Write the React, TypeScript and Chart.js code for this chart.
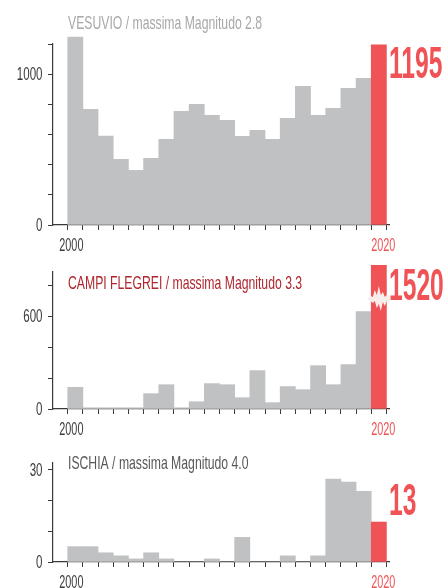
import React, { useEffect, useRef } from 'react';
import { Chart, registerables } from 'chart.js';

Chart.register(...registerables);

// ---------- data ----------
const years = [2000, 2001, 2002, 2003, 2004, 2005, 2006, 2007, 2008, 2009, 2010, 2011, 2012, 2013, 2014, 2015, 2016, 2017, 2018, 2019, 2020];
const vesuvio = [1246, 767, 590, 435, 362, 442, 568, 754, 800, 727, 694, 588, 628, 568, 707, 919, 727, 773, 906, 972, 1195];
const campiFlegrei = [140, 8, 8, 8, 8, 99, 157, 8, 47, 164, 157, 73, 248, 41, 145, 125, 280, 157, 287, 630, 1520];
const ischia = [5, 5, 3, 2, 1, 3, 1, 0, 0, 1, 0, 8, 0, 0, 2, 0, 2, 27, 26, 23, 13];

const titles = ['VESUVIO / massima Magnitudo 2.8', 'CAMPI FLEGREI / massima Magnitudo 3.3', 'ISCHIA / massima Magnitudo 4.0'];
const highlightLabels = ['1195', '1520', '13'];
const xTickLabels = ['2000', '2020'];
const vesuvioTicks = [0, 200, 400, 600, 800, 1000, 1200];
const vesuvioTickLabels = [0, 1000];
const campiTicks = [0, 200, 400, 600, 800];
const campiTickLabels = [0, 600];
const ischiaTicks = [0, 10, 20, 30];
const ischiaTickLabels = [0, 30];

// ---------- style ----------
const GREY = '#c0c1c3';
const RED = '#ef5356';
const AXIS = '#3a3a3a';
const FONT = '"Liberation Sans", Arial, sans-serif';

type Panel = {
  top: number; height: number; padTop: number; axisBottom: number; yMax: number; clipTop: number;
  values: number[]; ticks: number[]; tickLabels: number[];
  title: string; titleColor: string; titleBaseline: number;
  number: string; numberBaseline: number; breakAt: number | null;
};

const panels: Panel[] = [
  { top: 0, height: 262, padTop: 44, axisBottom: 225, yMax: 1200, clipTop: 9, values: vesuvio, ticks: vesuvioTicks, tickLabels: vesuvioTickLabels,
    title: titles[0], titleColor: '#a7a8aa', titleBaseline: 29.3, number: highlightLabels[0], numberBaseline: 77.7, breakAt: null },
  { top: 250, height: 190, padTop: 22, axisBottom: 159, yMax: 885, clipTop: 7, values: campiFlegrei, ticks: campiTicks, tickLabels: campiTickLabels,
    title: titles[1], titleColor: '#b0262e', titleBaseline: 39.3, number: highlightLabels[1], numberBaseline: 50, breakAt: 710 },
  { top: 440, height: 148, padTop: 23, axisBottom: 122, yMax: 32.2, clipTop: 2, values: ischia, ticks: ischiaTicks, tickLabels: ischiaTickLabels,
    title: titles[2], titleColor: '#58585a', titleBaseline: 29.3, number: highlightLabels[2], numberBaseline: 75, breakAt: null },
];

const X_MIN = 1998.53;
const X_MAX = 2020.67;
const X_LABEL_POS = [1999.74, 2020.29];

function drawText(ctx: CanvasRenderingContext2D, text: string, x: number, y: number, font: string, color: string, sx: number, align: CanvasTextAlign) {
  ctx.save();
  ctx.font = font;
  ctx.fillStyle = color;
  ctx.textAlign = align;
  ctx.textBaseline = 'alphabetic';
  ctx.translate(x, y);
  ctx.scale(sx, 1);
  ctx.fillText(text, 0, 0);
  ctx.restore();
}

function PanelChart({ p }: { p: Panel }) {
  const ref = useRef<HTMLCanvasElement>(null);
  useEffect(() => {
    if (!ref.current) return;
    const decor = {
      id: 'decor',
      afterDatasetsDraw(chart: any) {
        const { ctx, chartArea, scales } = chart;
        const xs = scales.x;
        const ys = scales.y;
        // break marker
        if (p.breakAt !== null) {
          const meta = chart.getDatasetMeta(0);
          const bar = meta.data[meta.data.length - 1];
          const cx = bar.x;
          const cy = ys.getPixelForValue(p.breakAt);
          const top = [[-11, -1], [-8, -3], [-6, -2], [-4, -9], [-2, -4], [0, -13], [2, -4], [4, -7], [6, -2], [8, -4], [11, -3]];
          const bot = [[11, 3], [8, 2], [6, 7], [4, 3], [2, 12], [0, 5], [-2, 9], [-4, 2], [-6, 4], [-8, 2], [-11, 1]];
          ctx.save();
          ctx.fillStyle = '#f8eeec';
          ctx.beginPath();
          [...top, ...bot].forEach(([dx, dy], i) => {
            if (i === 0) ctx.moveTo(cx + dx, cy + dy); else ctx.lineTo(cx + dx, cy + dy);
          });
          ctx.closePath();
          ctx.fill();
          ctx.restore();
        }
        // title
        drawText(ctx, p.title, 68, p.titleBaseline, `18.5px ${FONT}`, p.titleColor, 0.66, 'left');
        // big number
        drawText(ctx, p.number, 389, p.numberBaseline, `bold 44px ${FONT}`, RED, 0.56, 'left');
        // y labels
        p.tickLabels.forEach((v) => {
          drawText(ctx, String(v), chartArea.left - 10.5, ys.getPixelForValue(v) + 6.2, `17.5px ${FONT}`, AXIS, 0.66, 'right');
        });
        // x labels
        xTickLabels.forEach((t, i) => {
          drawText(ctx, t, xs.getPixelForValue(X_LABEL_POS[i]), chartArea.bottom + 25.5, `17.5px ${FONT}`, i === 1 ? RED : AXIS, 0.62, 'center');
        });
      },
    };

    const chart = new Chart(ref.current, {
      type: 'bar',
      data: {
        datasets: [{
          data: years.map((yr, i) => ({ x: yr, y: p.values[i] })),
          backgroundColor: years.map((_, i) => (i === years.length - 1 ? RED : GREY)),
          borderWidth: 0,
          barPercentage: 1.0,
          categoryPercentage: 1.0,
          clip: { left: 0, top: p.clipTop, right: 0, bottom: 0 } as any,
        }],
      },
      options: {
        animation: false,
        responsive: false,
        devicePixelRatio: 1,
        layout: { padding: { top: p.padTop, left: 0, right: 59, bottom: 0 } },
        plugins: { legend: { display: false }, tooltip: { enabled: false }, title: { display: false } },
        scales: {
          x: {
            type: 'linear',
            offset: false,
            min: X_MIN,
            max: X_MAX,
            ticks: { display: false },
            grid: { display: true, offset: false, drawOnChartArea: false, drawTicks: true, tickLength: 5, color: AXIS, lineWidth: 1 },
            border: { display: true, color: AXIS, width: 1.2 },
            afterBuildTicks: (scale: any) => {
              scale.ticks = years.concat([years[years.length - 1] + 1]).map((y) => ({ value: y - 0.5 }));
            },
            afterFit: (scale: any) => { scale.height = p.height - p.axisBottom; },
          },
          y: {
            type: 'linear',
            min: 0,
            max: p.yMax,
            ticks: { display: false },
            grid: { display: true, drawOnChartArea: false, drawTicks: true, tickLength: 5, color: AXIS, lineWidth: 1 },
            border: { display: true, color: AXIS, width: 1.2 },
            afterBuildTicks: (scale: any) => { scale.ticks = p.ticks.map((v) => ({ value: v })); },
            afterFit: (scale: any) => { scale.width = 53; },
          },
        },
      } as any,
      plugins: [decor],
    });
    return () => chart.destroy();
  }, [p]);
  return (
    <canvas
      ref={ref}
      width={448}
      height={p.height}
      style={{ position: 'absolute', left: 0, top: p.top, width: 448, height: p.height }}
    />
  );
}

export default function App() {
  return (
    <div style={{ position: 'absolute', left: 0, top: 0, width: 448, height: 588, background: '#fff' }}>
      {panels.map((p, i) => <PanelChart key={i} p={p} />)}
    </div>
  );
}
